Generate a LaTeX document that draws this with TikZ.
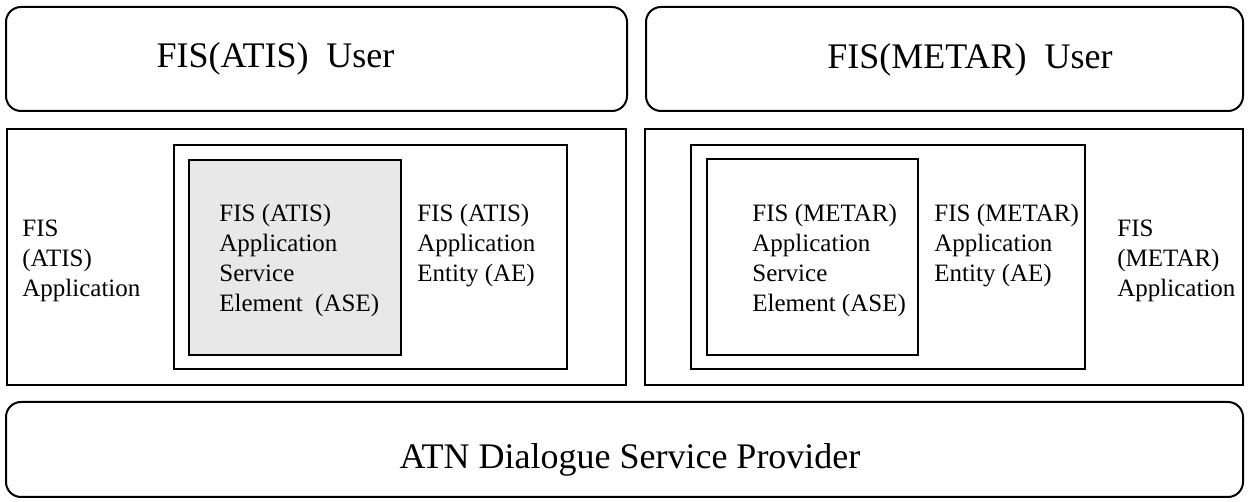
\documentclass[tikz,border=0pt]{standalone}
\usepackage{fontspec}
\setmainfont{Liberation Serif}
\usepackage{tikz}
\usetikzlibrary{positioning}
\tikzset{box/.style = {draw, line width = 1pt, inner sep = 0}}
\tikzset{rbox/.style = {box, rounded corners = 7.5pt}}
\tikzset{lbl/.style = {inner sep = 0, anchor = north west, align = left,
                       font = \fontsize{12.5}{15}\selectfont}}
\tikzset{big/.style = {inner sep = 0, anchor = base, font = \fontsize{18}{22}\selectfont}}

\begin{document}
\begin{tikzpicture}[x = 0.5pt, y = -0.5pt]
          \useasboundingbox (0, 0) rectangle (1249, 502);
          \node [rbox, minimum width = 310.5pt, minimum height = 52pt] (usr-atis) at (316.5, 59) {};
          \node [rbox, minimum width = 298.5pt, minimum height = 52pt] (usr-metar) at (944.5, 59) {};
          \node [box, minimum width = 309.5pt, minimum height = 128pt] (app-atis) at (316.5, 257) {};
          \node [box, minimum width = 299pt, minimum height = 128pt] (app-metar) at (944, 257) {};
          \node [box, minimum width = 196.5pt, minimum height = 112pt] (ae-atis) at (370.5, 257) {};
          \node [box, fill = black!9, minimum width = 106pt, minimum height = 97.5pt] (ase-atis) at (295, 257.5) {};
          \node [box, minimum width = 197pt, minimum height = 112pt] (ae-metar) at (888, 257) {};
          \node [box, minimum width = 105.5pt, minimum height = 98pt] (ase-metar) at (812.5, 257) {};
          \node [rbox, minimum width = 618.5pt, minimum height = 47.5pt] (atn) at (624.5, 449.5) {};
          \node [big] (t-usr-atis) at (275.5, 68) {FIS(ATIS)\ \ User};
          \node [big] (t-usr-metar) at (970, 69) {FIS(METAR)\ \ User};
          \node [big] (t-atn) at (630, 469) {ATN Dialogue Service Provider};
          \node [lbl] (t-app-atis) at (22, 220) {FIS\\(ATIS)\\Application};
          \node [lbl] (t-ase-atis) at (219, 204) {FIS (ATIS)\\Application\\Service\\Element\ \ (ASE)};
          \node [lbl] (t-ae-atis) at (417, 204) {FIS (ATIS)\\Application\\Entity (AE)};
          \node [lbl] (t-ase-metar) at (752, 204) {FIS (METAR)\\Application\\Service\\Element (ASE)};
          \node [lbl] (t-ae-metar) at (934, 204) {FIS (METAR)\\Application\\Entity (AE)};
          \node [lbl] (t-app-metar) at (1117, 220) {FIS\\(METAR)\\Application};
        \end{tikzpicture}
\end{document}
